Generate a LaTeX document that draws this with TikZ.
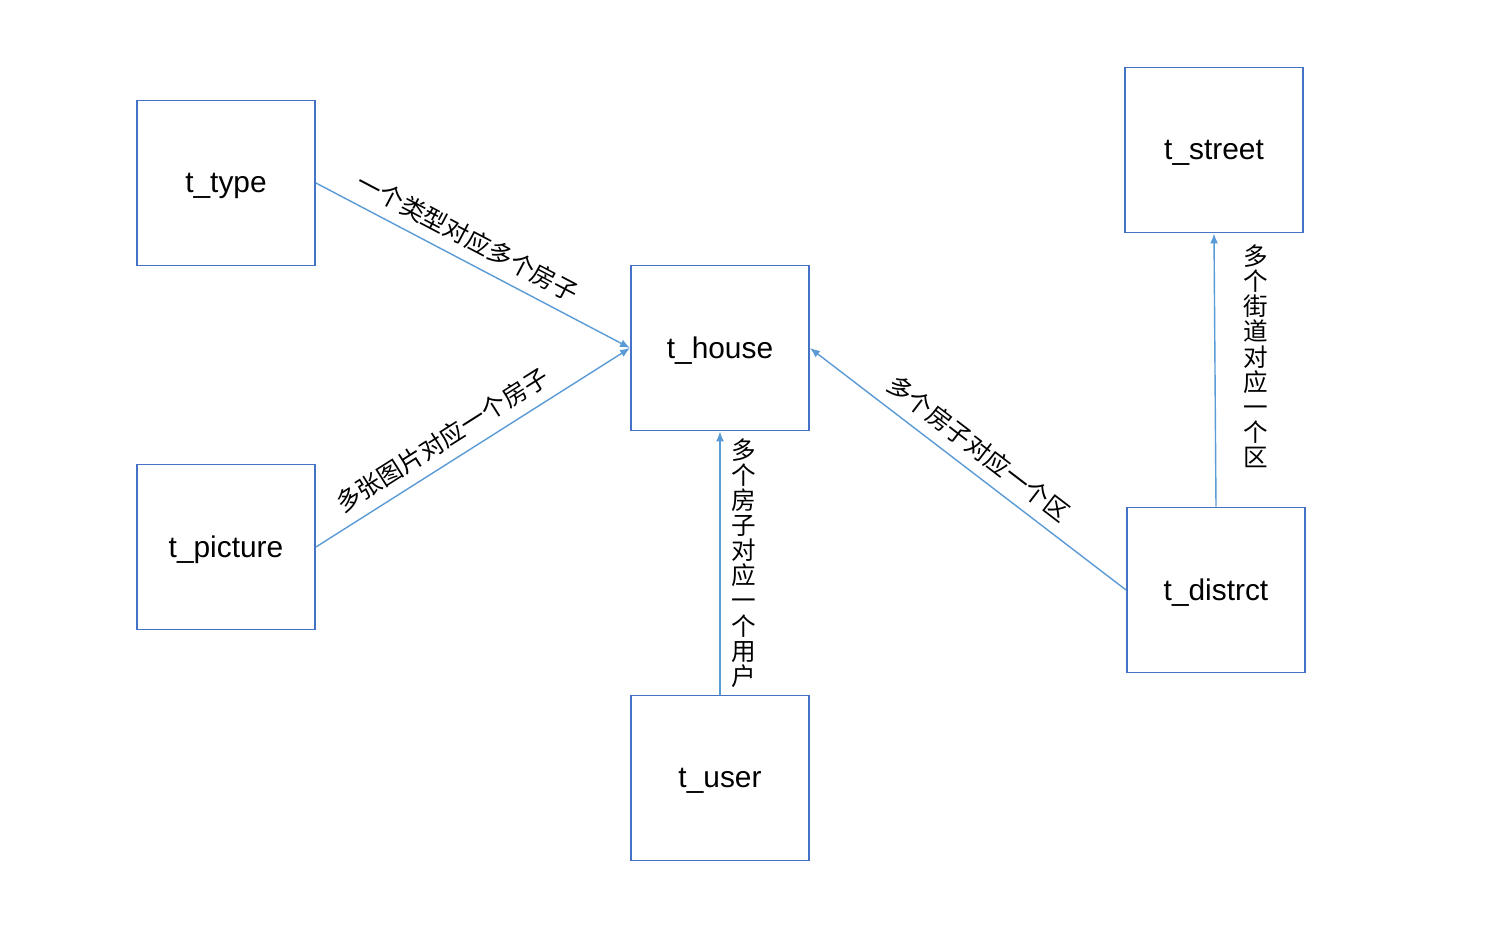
\documentclass[tikz,border=0pt]{standalone}
\usepackage{fontspec}
\setmainfont{Liberation Sans}
\newfontfamily\cjk{Noto Sans CJK SC}
\usetikzlibrary{arrows.meta, positioning}
\definecolor{boxblue}{HTML}{4472C4}
\definecolor{linkblue}{HTML}{5B9BD5}

\begin{document}
\begin{tikzpicture}[
  x=0.02cm, y=-0.02cm,
  table/.style={rectangle, draw=boxblue, line width=1.1pt, fill=white, minimum width=3.56cm, minimum height=3.3cm, align=center, text depth=0pt, font=\fontsize{17}{20}\selectfont},
  link/.style={-{Latex[length=2mm, width=1.6mm]}, line width=0.8pt, draw=linkblue},
  note/.style={font=\cjk\fontsize{14}{14.3}\selectfont, align=center, inner sep=2pt}
]
  \useasboundingbox (0,0) rectangle (1492,932);

  \node[table] (house) at (720,348) {t\_house};
  \node[table] (type) at (226,183) {t\_type};
  \node[table] (picture) at (226,547) {t\_picture};
  \node[table] (user) at (720,778) {t\_user};
  \node[table] (street) at (1214,150) {t\_street};
  \node[table] (distrct) at (1216,590) {t\_distrct};

  \draw[link] (type.east) -- node[note, sloped, above, pos=0.45, yshift=4pt] {一个类型对应多个房子} (house.west);
  \draw[link] (picture.east) -- node[note, sloped, above, pos=0.44, yshift=4pt] {多张图片对应一个房子} (house.west);
  \draw[link] (distrct.west) -- node[note, sloped, above, pos=0.51, yshift=4pt] {多个房子对应一个区} (house.east);
  \draw[link] (user.north) -- node[note, right, xshift=4pt] {多\\个\\房\\子\\对\\应\\一\\个\\用\\户} (house.south);
  \draw[link] (distrct.north) -- node[note, right, xshift=14pt, pos=0.55] {多\\个\\街\\道\\对\\应\\一\\个\\区} (street.south);
\end{tikzpicture}
\end{document}
